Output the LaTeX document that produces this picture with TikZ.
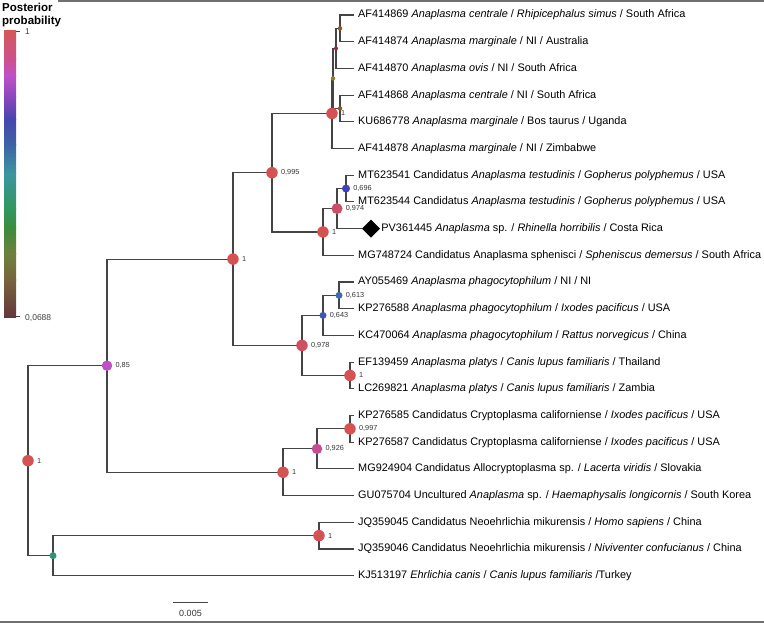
\documentclass[tikz,border=0pt]{standalone}
\usepackage{fontspec}
\setmainfont{Liberation Sans}
\usetikzlibrary{shapes.geometric}

\definecolor{brc}{HTML}{444444}
\definecolor{frm}{HTML}{707070}
% posterior colours
\definecolor{ppA}{RGB}{214,82,82}
\definecolor{ppB}{RGB}{208,80,96}
\definecolor{ppC}{RGB}{205,78,104}
\definecolor{ppD}{RGB}{200,75,150}
\definecolor{ppE}{RGB}{192,80,200}
\definecolor{ppF}{RGB}{64,64,190}
\definecolor{ppG}{RGB}{60,90,170}
\definecolor{ppH}{RGB}{65,105,175}
\definecolor{ppI}{RGB}{45,150,110}
\definecolor{ppJ}{RGB}{130,95,40}
\definecolor{ppK}{RGB}{150,40,50}
\definecolor{ppL}{RGB}{140,130,50}
% colour bar stops
\definecolor{cb0}{RGB}{212,88,88}
\definecolor{cb1}{RGB}{205,80,140}
\definecolor{cb2}{RGB}{190,80,200}
\definecolor{cb3}{RGB}{140,70,190}
\definecolor{cb4}{RGB}{70,70,175}
\definecolor{cb5}{RGB}{60,100,165}
\definecolor{cb6}{RGB}{60,150,160}
\definecolor{cb7}{RGB}{50,150,95}
\definecolor{cb8}{RGB}{60,140,60}
\definecolor{cb9}{RGB}{110,130,60}
\definecolor{cb10}{RGB}{120,100,60}
\definecolor{cb11}{RGB}{100,55,60}

\tikzset{
  branch/.style={draw=brc, line width=1.1pt},
  frameline/.style={draw=frm, line width=1.2pt},
  ppnode/.style={circle, inner sep=0pt, minimum size=#1},
  pplab/.style={anchor=west, inner sep=0pt, text=black!80, font=\fontsize{7.3}{8}\selectfont},
  tiplab/.style={anchor=west, inner xsep=4pt, inner ysep=0pt, text height=8pt, text depth=2.2pt, font=\fontsize{10.9}{13}\selectfont},
}

\begin{document}
\begin{tikzpicture}[x=1pt,y=-1pt]
\useasboundingbox (0,0) rectangle (764,625);

% legend
\node[anchor=north west, inner sep=0pt, align=left, font=\bfseries\fontsize{11.5}{12.5}\selectfont] (ttl) at (2,3) {Posterior\\probability};
\foreach \ya/\yb/\ca/\cb in {30/58.7/cb0/cb1, 58.7/75.9/cb1/cb2, 75.9/96/cb2/cb3, 96/119/cb3/cb4,
    119/144.8/cb4/cb5, 144.8/173.5/cb5/cb6, 173.5/208/cb6/cb7, 208/228/cb7/cb8,
    228/253.9/cb8/cb9, 253.9/279.7/cb9/cb10, 279.7/317/cb10/cb11}{
  \shade[top color=\ca, bottom color=\cb] (4,\ya) rectangle (16,\yb+0.3);}
\coordinate (tkA) at (16,31);
\coordinate (tkB) at (16,316);
\draw[brc, line width=0.8pt] (tkA) -- ++(4,0);
\draw[brc, line width=0.8pt] (tkB) -- ++(4,0);
\node[anchor=west, inner sep=0pt, text=black!75, font=\fontsize{8.5}{10}\selectfont] (lbA) at (25,32) {1};
\node[anchor=west, inner sep=0pt, text=black!75, font=\fontsize{8.5}{10}\selectfont] (lbB) at (25,318) {0,0688};

% frame lines
\coordinate (fa) at (58,1);
\coordinate (fb) at (764,1);
\coordinate (fc) at (0,622);
\coordinate (fd) at (764,622);
\draw[frameline] (fa) -- (fb);
\draw[frameline] (fc) -- (fd);

% tip labels
\node[tiplab] (t1) at (354,15) {AF414869 \textit{Anaplasma centrale} / \textit{Rhipicephalus simus} / South Africa};
\node[tiplab] (t2) at (354,41.7) {AF414874 \textit{Anaplasma marginale} / NI / Australia};
\node[tiplab] (t3) at (354,68.4) {AF414870 \textit{Anaplasma ovis} / NI / South Africa};
\node[tiplab] (t4) at (354,95.1) {AF414868 \textit{Anaplasma centrale} / NI / South Africa};
\node[tiplab] (t5) at (354,121.8) {KU686778 \textit{Anaplasma marginale} / Bos taurus / Uganda};
\node[tiplab] (t6) at (354,148.5) {AF414878 \textit{Anaplasma marginale} / NI / Zimbabwe};
\node[tiplab] (t7) at (354,175.2) {MT623541 Candidatus \textit{Anaplasma testudinis} / \textit{Gopherus polyphemus} / USA};
\node[tiplab] (t8) at (354,201.9) {MT623544 Candidatus \textit{Anaplasma testudinis} / \textit{Gopherus polyphemus} / USA};
\node[diamond, fill=black, inner sep=0pt, minimum size=18pt] (dmd) at (371,228.6) {};
\node[tiplab, inner xsep=1pt] (t9) at (dmd.east) {PV361445 \textit{Anaplasma} sp. / \textit{Rhinella horribilis} / Costa Rica};
\node[tiplab] (t10) at (354,255.3) {MG748724 Candidatus Anaplasma sphenisci / \textit{Spheniscus demersus} / South Africa};
\node[tiplab] (t11) at (354,282) {AY055469 \textit{Anaplasma phagocytophilum} / NI / NI};
\node[tiplab] (t12) at (354,308.7) {KP276588 \textit{Anaplasma phagocytophilum} / \textit{Ixodes pacificus} / USA};
\node[tiplab] (t13) at (354,335.4) {KC470064 \textit{Anaplasma phagocytophilum} / \textit{Rattus norvegicus} / China};
\node[tiplab] (t14) at (354,362.1) {EF139459 \textit{Anaplasma platys} / \textit{Canis lupus familiaris} / Thailand};
\node[tiplab] (t15) at (354,388.8) {LC269821 \textit{Anaplasma platys} / \textit{Canis lupus familiaris} / Zambia};
\node[tiplab] (t16) at (354,415.5) {KP276585 Candidatus Cryptoplasma californiense / \textit{Ixodes pacificus} / USA};
\node[tiplab] (t17) at (354,442.2) {KP276587 Candidatus Cryptoplasma californiense / \textit{Ixodes pacificus} / USA};
\node[tiplab] (t18) at (354,468.9) {MG924904 Candidatus Allocryptoplasma sp. / \textit{Lacerta viridis} / Slovakia};
\node[tiplab] (t19) at (354,495.6) {GU075704 Uncultured \textit{Anaplasma} sp. / \textit{Haemaphysalis longicornis} / South Korea};
\node[tiplab] (t20) at (354,522.3) {JQ359045 Candidatus Neoehrlichia mikurensis / \textit{Homo sapiens} / China};
\node[tiplab] (t21) at (354,549) {JQ359046 Candidatus Neoehrlichia mikurensis / \textit{Niviventer confucianus} / China};
\node[tiplab] (t22) at (354,575.7) {KJ513197 \textit{Ehrlichia canis} / \textit{Canis lupus familiaris} /Turkey};

% internal nodes
\coordinate (R) at (28,460.7);
\coordinate (A) at (107,365.65);
\coordinate (B) at (53,555.7);
\coordinate (C) at (233,259.05);
\coordinate (D) at (283,472.25);
\coordinate (E) at (272,172.7);
\coordinate (F) at (302,345.4);
\coordinate (G) at (332,113.45);
\coordinate (H) at (323,231.95);
\coordinate (I) at (337,208.6);
\coordinate (J) at (346,188.55);
\coordinate (K) at (323,315.4);
\coordinate (L) at (350,375.45);
\coordinate (M) at (339,295.35);
\coordinate (N) at (350,428.85);
\coordinate (O) at (317,448.9);
\coordinate (P) at (319,535.65);
\coordinate (Q1) at (340,28.35);
\coordinate (Q2) at (336,48.4);
\coordinate (Q3) at (340,108.45);
\coordinate (Q4) at (333,78.4);

% branches
\draw[branch] (R) |- (A);
\draw[branch] (R) |- (B);
\draw[branch] (A) |- (C);
\draw[branch] (A) |- (D);
\draw[branch] (C) |- (E);
\draw[branch] (C) |- (F);
\draw[branch] (E) |- (G);
\draw[branch] (E) |- (H);
\draw[branch] (G) |- (Q4);
\draw[branch] (G) |- (t6.west);
\draw[branch] (Q4) |- (Q2);
\draw[branch] (Q4) |- (Q3);
\draw[branch] (Q2) |- (Q1);
\draw[branch] (Q2) |- (t3.west);
\draw[branch] (Q1) |- (t1.west);
\draw[branch] (Q1) |- (t2.west);
\draw[branch] (Q3) |- (t4.west);
\draw[branch] (Q3) |- (t5.west);
\draw[branch] (H) |- (I);
\draw[branch] (H) |- (t10.west);
\draw[branch] (I) |- (J);
\draw[branch] (I) |- (dmd.west);
\draw[branch] (J) |- (t7.west);
\draw[branch] (J) |- (t8.west);
\draw[branch] (F) |- (K);
\draw[branch] (F) |- (L);
\draw[branch] (K) |- (M);
\draw[branch] (K) |- (t13.west);
\draw[branch] (M) |- (t11.west);
\draw[branch] (M) |- (t12.west);
\draw[branch] (L) |- (t14.west);
\draw[branch] (L) |- (t15.west);
\draw[branch] (D) |- (O);
\draw[branch] (D) |- (t19.west);
\draw[branch] (O) |- (N);
\draw[branch] (O) |- (t18.west);
\draw[branch] (N) |- (t16.west);
\draw[branch] (N) |- (t17.west);
\draw[branch] (B) |- (P);
\draw[branch] (B) |- (t22.west);
\draw[branch] (P) |- (t20.west);
\draw[branch] (P) |- (t21.west);

% posterior circles with values
\foreach \n/\c/\s/\v in {R/ppA/11.5pt/1, A/ppE/10.5pt/{0,85}, C/ppA/11.5pt/1, D/ppA/11.5pt/1,
    E/ppA/11.5pt/{0,995}, F/ppB/11.5pt/{0,978}, G/ppA/11.5pt/1, H/ppA/11.5pt/1,
    I/ppC/11pt/{0,974}, J/ppF/8pt/{0,696}, K/ppG/7pt/{0,643}, M/ppH/7pt/{0,613},
    L/ppA/11.5pt/1, N/ppA/11.5pt/{0,997}, O/ppD/10.5pt/{0,926}, P/ppA/11.5pt/1}{
  \node[ppnode=\s, fill=\c] (c\n) at (\n) {};
  \node[pplab] (l\n) at ([xshift=3pt]c\n.east) {\v};}
\foreach \n/\c/\s in {B/ppI/7pt, Q1/ppJ/4.5pt, Q2/ppK/4pt, Q3/ppJ/4.5pt, Q4/ppL/4.5pt}{
  \node[ppnode=\s, fill=\c] (c\n) at (\n) {};}

% scale bar
\coordinate (sbL) at (173,602);
\coordinate (sbR) at (208,602);
\draw[brc, line width=1pt] (sbL) -- (sbR);
\node[inner sep=0pt, text=black!80, font=\fontsize{9}{10}\selectfont] (sbT) at (190.5,613) {0.005};
\end{tikzpicture}
\end{document}
